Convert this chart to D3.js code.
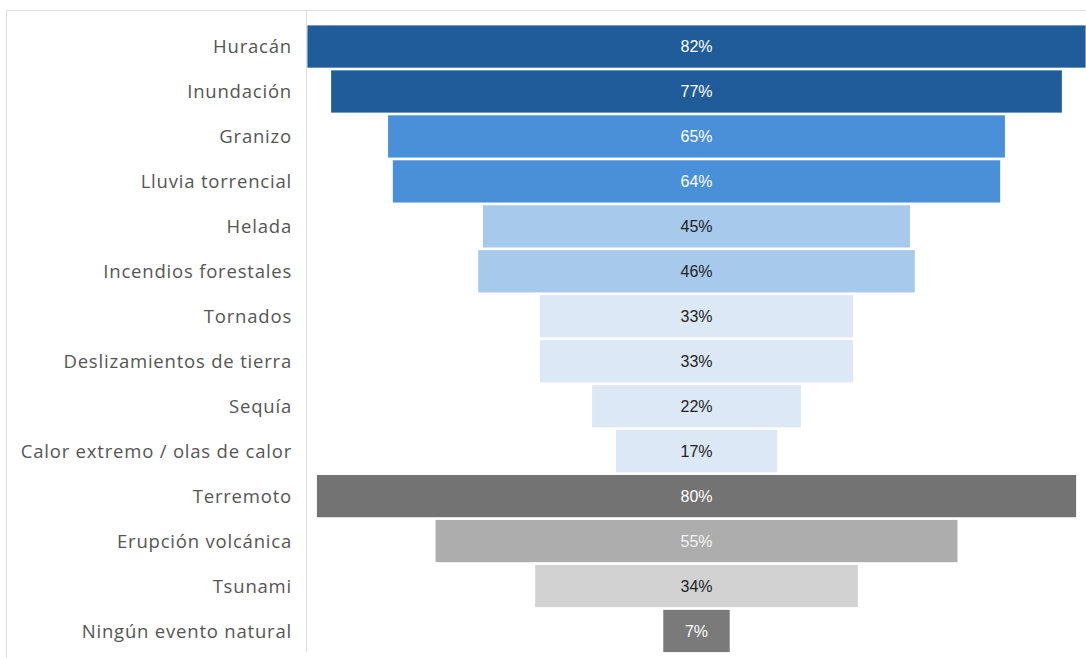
<!DOCTYPE html>
<html>
<head>
<meta charset="utf-8">
<script src="https://cdn.jsdelivr.net/npm/d3@7"></script>
<style>
  html, body { margin: 0; padding: 0; background: #fff; }
  svg { display: block; }
</style>
</head>
<body>
<svg id="chart" width="1086" height="658"></svg>
<script>
// Natural events and share of respondents
const categories = [
  "Huracán", "Inundación", "Granizo", "Lluvia torrencial", "Helada",
  "Incendios forestales", "Tornados", "Deslizamientos de tierra", "Sequía",
  "Calor extremo / olas de calor", "Terremoto", "Erupción volcánica",
  "Tsunami", "Ningún evento natural"
];
const values = [82, 77, 65, 64, 45, 46, 33, 33, 22, 17, 80, 55, 34, 7];
const fills = [
  "#1f5c99", "#1f5c99", "#4a90d9", "#4a90d9", "#a7c9ec", "#a7c9ec",
  "#dce8f5", "#dce8f5", "#dce8f5", "#dce8f5",
  "#737373", "#adadad", "#d2d2d2", "#7a7a7a"
];
const labelColors = [
  "#ffffff", "#ffffff", "#ffffff", "#ffffff", "#222222", "#222222",
  "#222222", "#222222", "#222222", "#222222",
  "#ffffff", "#f4f4f4", "#222222", "#ffffff"
];

const svg = d3.select("#chart");

// frame
svg.append("path")
  .attr("d", "M6.5,658 V10.5 H1086")
  .attr("fill", "none")
  .attr("stroke", "#dddddd")
  .attr("stroke-width", 1);

const center = 696.5;
const half = 474.5;
const x = d3.scaleLinear().domain([-50, 50]).range([center - half, center + half]);
const y = d3.scaleBand().domain(categories).range([24.5, 653]).paddingInner(0.06).paddingOuter(0.02);

// axis line
svg.append("line")
  .attr("x1", 306.5).attr("x2", 306.5)
  .attr("y1", 10).attr("y2", 652)
  .attr("stroke", "#dddddd");

const rows = categories.map((c, i) => ({ c, v: values[i], fill: fills[i], tc: labelColors[i] }));

svg.append("g").selectAll("rect")
  .data(rows)
  .join("rect")
  .attr("x", d => x(-d.v / 2))
  .attr("width", d => x(d.v / 2) - x(-d.v / 2))
  .attr("y", d => y(d.c))
  .attr("height", y.bandwidth())
  .attr("fill", d => d.fill);

svg.append("g").selectAll("text")
  .data(rows)
  .join("text")
  .attr("x", x(0))
  .attr("y", d => y(d.c) + y.bandwidth() / 2)
  .attr("dy", "0.36em")
  .attr("text-anchor", "middle")
  .attr("font-family", "Liberation Sans, Arial, sans-serif")
  .attr("font-size", 16)
  .attr("fill", d => d.tc)
  .text(d => d.v + "%");

// category labels
const yAxis = d3.axisLeft(y).tickSize(0).tickPadding(0);
const ga = svg.append("g").attr("transform", "translate(292,1)").call(yAxis);
ga.select(".domain").remove();
ga.selectAll("text")
  .attr("font-family", "Open Sans, sans-serif")
  .attr("font-size", 18.5)
  .attr("letter-spacing", "0.8px")
  .attr("fill", "#555555");
</script>
</body>
</html>
